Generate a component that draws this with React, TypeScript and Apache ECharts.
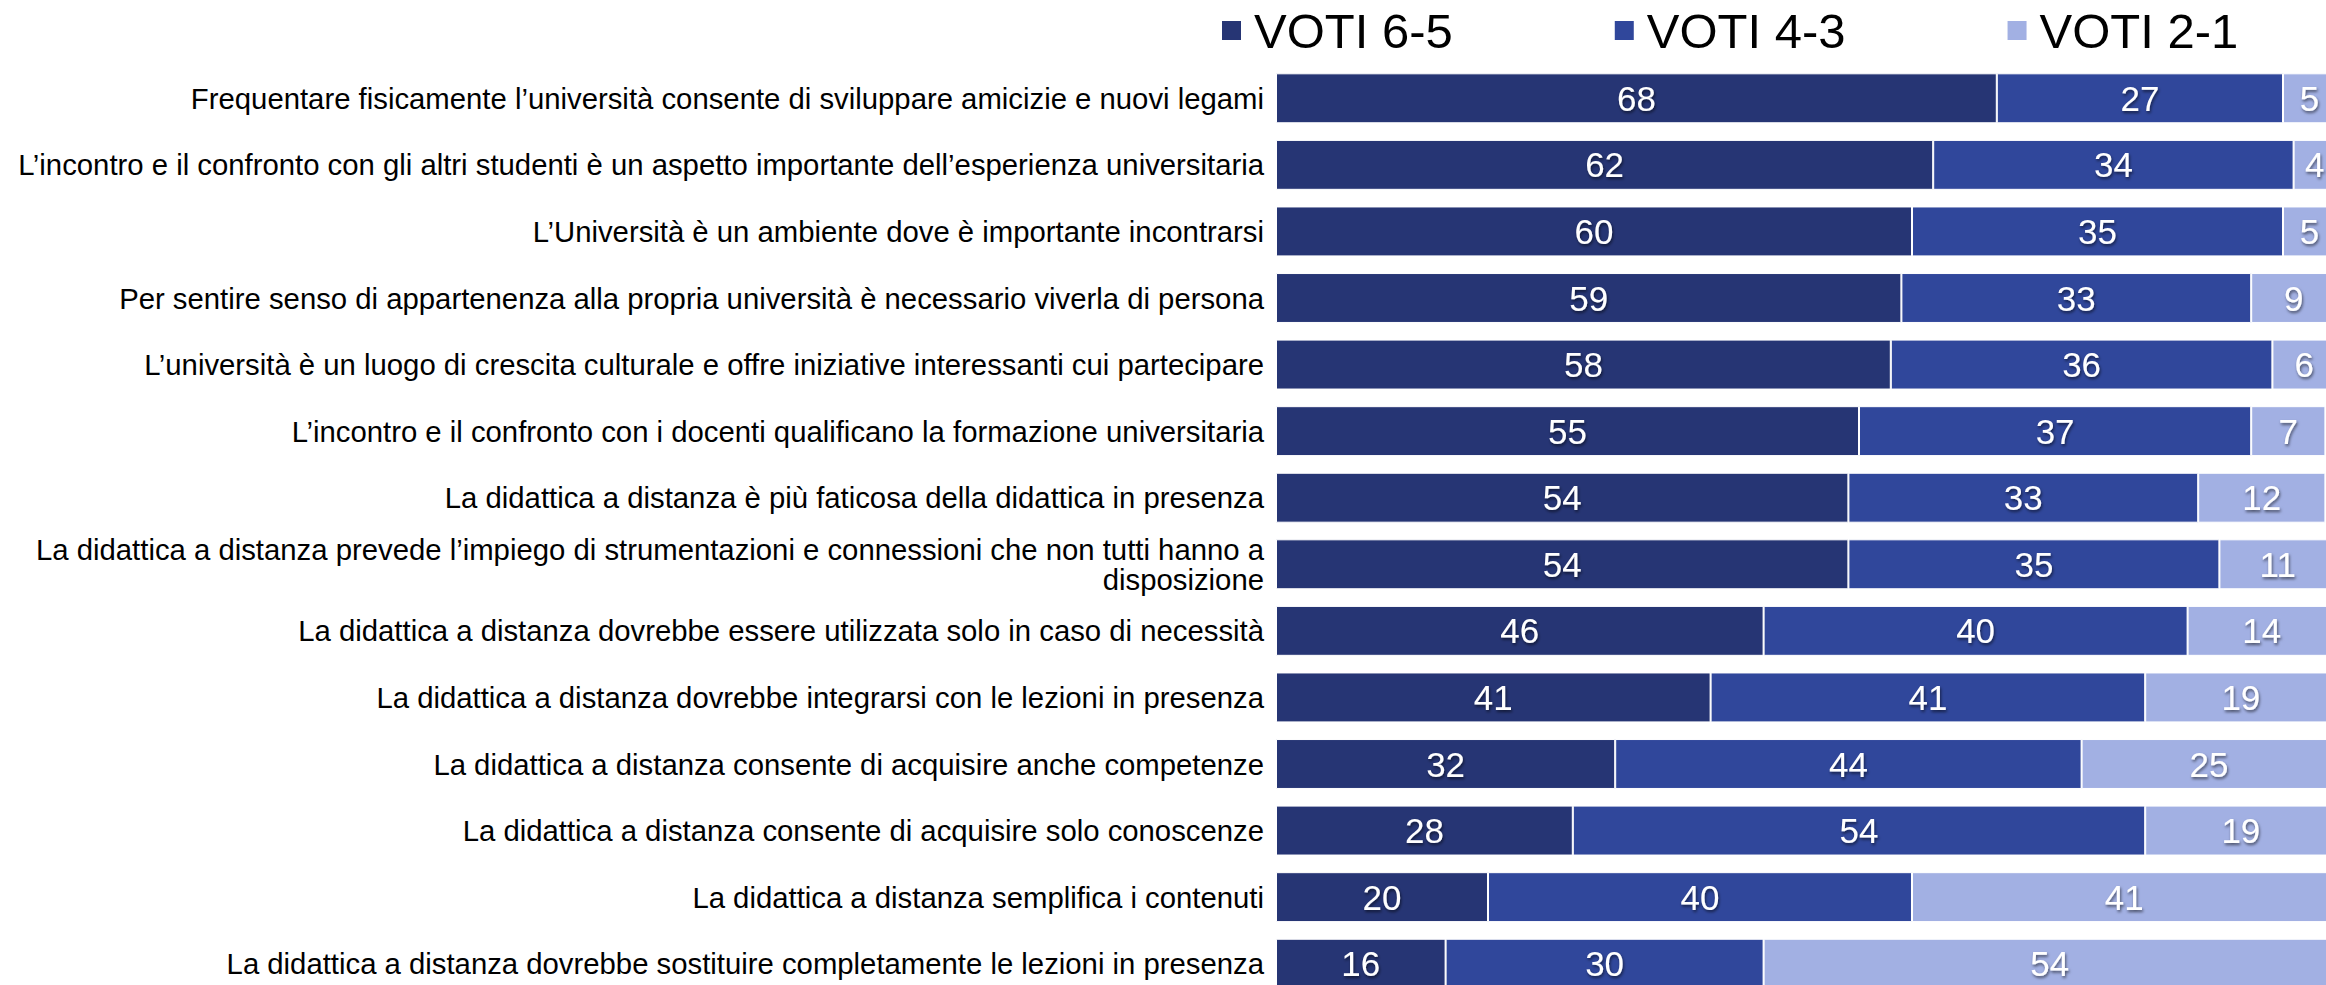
import React, { useEffect, useRef } from "react";
import * as echarts from "echarts";

const categories = [
  "Frequentare fisicamente l’università consente di sviluppare amicizie e nuovi legami",
  "L’incontro e il confronto con gli altri studenti è un aspetto importante dell’esperienza universitaria",
  "L’Università è un ambiente dove è importante incontrarsi",
  "Per sentire senso di appartenenza alla propria università è necessario viverla di persona",
  "L’università è un luogo di crescita culturale e offre iniziative interessanti cui partecipare",
  "L’incontro e il confronto con i docenti qualificano la formazione universitaria",
  "La didattica a distanza è più faticosa della didattica in presenza",
  "La didattica a distanza prevede l’impiego di strumentazioni e connessioni che non tutti hanno a\ndisposizione",
  "La didattica a distanza dovrebbe essere utilizzata solo in caso di necessità",
  "La didattica a distanza dovrebbe integrarsi con le lezioni in presenza",
  "La didattica a distanza consente di acquisire anche competenze",
  "La didattica a distanza consente di acquisire solo conoscenze",
  "La didattica a distanza semplifica i contenuti",
  "La didattica a distanza dovrebbe sostituire completamente le lezioni in presenza",
];

const voti65 = [68, 62, 60, 59, 58, 55, 54, 54, 46, 41, 32, 28, 20, 16];
const voti43 = [27, 34, 35, 33, 36, 37, 33, 35, 40, 41, 44, 54, 40, 30];
const voti21 = [5, 4, 5, 9, 6, 7, 12, 11, 14, 19, 25, 19, 41, 54];

const seriesNames = ["VOTI 6-5", "VOTI 4-3", "VOTI 2-1"];
const colors = ["#263574", "#30479B", "#A2B0E3"];

export default function App() {
  const ref = useRef<HTMLDivElement>(null);

  useEffect(() => {
    if (!ref.current) return;
    const chart = echarts.init(ref.current, null, { renderer: "svg" });
    const font = "'Liberation Sans', Arial, sans-serif";
    const dataSets = [voti65, voti43, voti21];
    chart.setOption({
      animation: false,
      textStyle: { fontFamily: font },
      legend: {
        data: seriesNames,
        left: 1215,
        top: 1,
        itemWidth: 21,
        itemHeight: 21,
        itemGap: 160,
        icon: "rect",
        textStyle: { fontSize: 49, color: "#000", fontFamily: font, padding: [0, 0, 0, 7] },
      },
      grid: { left: 1276, right: 9, top: 65, bottom: 13, containLabel: false },
      xAxis: {
        type: "value",
        min: 0,
        max: 100,
        show: false,
      },
      yAxis: {
        type: "category",
        inverse: true,
        data: categories,
        axisLine: { show: false },
        axisTick: { show: false },
        axisLabel: {
          margin: 12,
          fontSize: 29.3,
          color: "#000",
          fontFamily: font,
          align: "right",
          lineHeight: 30,
        },
      },
      series: dataSets.map((d, i) => ({
        name: seriesNames[i],
        type: "bar",
        stack: "total",
        barCategoryGap: "25%",
        data: d,
        itemStyle: { color: colors[i], borderColor: "#ffffff", borderWidth: 1 },
        label: {
          show: true,
          position: "inside",
          color: "#fff",
          fontSize: 35,
          fontFamily: font,
          textShadowColor: "rgba(0,0,0,0.55)",
          textShadowBlur: 3,
          textShadowOffsetX: 1,
          textShadowOffsetY: 2,
        },
      })),
    });
    return () => chart.dispose();
  }, []);

  return (
    <div style={{ position: "absolute", left: 0, top: 0, width: 2326, height: 985, overflow: "hidden", background: "#fff" }}>
      <div ref={ref} style={{ width: 2345, height: 1010 }} />
    </div>
  );
}
